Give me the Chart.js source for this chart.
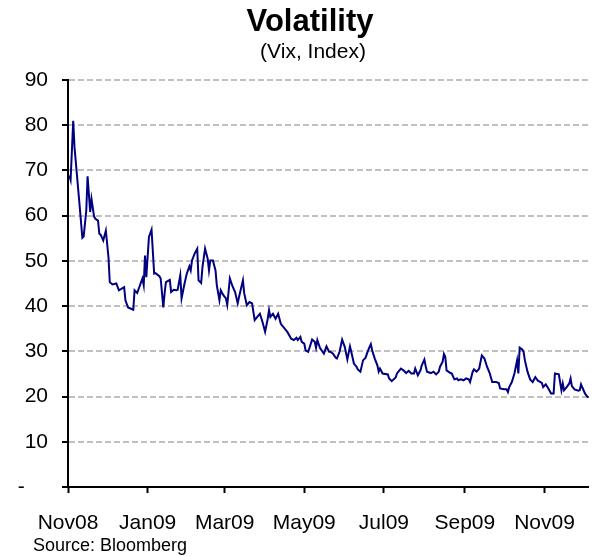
<!DOCTYPE html>
<html>
<head>
<meta charset="utf-8">
<script src="https://cdn.jsdelivr.net/npm/chart.js@4/dist/chart.umd.min.js"></script>
<style>
  body { margin: 0; background: #fff; }
  #wrap { width: 593px; height: 556px; }
</style>
</head>
<body>
<div id="wrap"><canvas id="vixChart" width="593" height="556"></canvas></div>
<script>
// VIX: day offsets from 1 Nov 2008 and index level
const dayOffsets = [
  1, 2, 4, 5, 7, 9, 11, 12, 14, 15, 17, 18, 20, 21, 23, 24, 25, 27, 29, 31,
  32, 34, 37, 39, 43, 44, 46, 50, 51, 53, 57, 58, 59, 60, 62, 64, 66, 67, 70, 71,
  73, 74, 75, 78, 79, 81, 83, 84, 86, 87, 89, 91, 93, 94, 95, 97, 99, 100, 102, 103,
  105, 107, 108, 109, 111, 113, 114, 116, 117, 119, 121, 122, 124, 126, 128, 130, 131, 134, 135, 137,
  139, 141, 143, 145, 147, 149, 151, 153, 154, 155, 157, 159, 161, 163, 166, 168, 171, 173, 175, 176,
  178, 179, 181, 182, 184, 185, 187, 189, 190, 191, 193, 195, 196, 198, 200, 201, 203, 205, 206, 208,
  210, 212, 214, 216, 217, 219, 221, 222, 224, 226, 228, 229, 231, 232, 233, 235, 237, 238, 239, 241,
  245, 246, 248, 251, 252, 255, 257, 259, 261, 263, 265, 266, 268, 270, 271, 273, 274, 275, 278, 280,
  282, 284, 285, 287, 288, 289, 290, 293, 294, 296, 298, 299, 301, 303, 305, 307, 308, 310, 311, 313,
  315, 317, 319, 321, 323, 325, 328, 330, 331, 334, 336, 337, 338, 340, 342, 344, 345, 346, 348, 349,
  350, 352, 354, 356, 358, 360, 363, 364, 366, 368, 370, 372, 373, 376, 378, 379, 380, 382, 384, 385,
  386, 388, 391, 392, 393, 394, 396, 398, 399
];
const vixValues = [
  68.9, 67.9, 81.0, 75.1, 68.5, 61.9, 55.1, 55.4, 61.1, 68.7, 60.8, 63.7, 59.8, 59.3, 58.9, 56.0, 55.8, 54.5, 56.7, 50.8,
  45.3, 44.8, 45.0, 43.5, 44.2, 41.3, 39.7, 39.2, 43.5, 42.9, 46.1, 44.6, 51.2, 46.4, 55.3, 56.9, 47.2, 47.3, 46.6, 46.1,
  39.7, 42.8, 45.3, 45.8, 43.1, 43.6, 43.5, 43.6, 46.8, 41.7, 44.6, 47.2, 48.8, 47.9, 50.1, 51.6, 52.7, 45.7, 45.1, 48.6,
  52.7, 50.5, 47.9, 50.1, 50.1, 47.9, 44.6, 41.3, 43.5, 42.4, 41.7, 40.3, 46.1, 44.4, 43.1, 40.6, 42.0, 45.7, 42.8, 40.2,
  40.9, 40.6, 36.9, 37.6, 38.3, 36.5, 34.3, 37.2, 39.1, 37.6, 38.3, 37.2, 38.3, 36.1, 35.0, 34.3, 32.8, 32.5, 33.0, 32.5,
  33.2, 32.1, 31.7, 30.2, 29.9, 30.8, 32.6, 32.1, 30.8, 32.5, 30.8, 29.9, 29.5, 31.1, 29.9, 29.9, 29.5, 28.6, 28.4, 29.9,
  32.6, 31.0, 28.2, 31.1, 29.9, 27.3, 26.6, 26.0, 25.5, 28.0, 28.6, 29.5, 31.0, 31.6, 30.2, 28.4, 26.9, 25.5, 26.2, 25.1,
  24.9, 24.0, 23.4, 24.2, 25.1, 26.2, 25.8, 25.2, 25.7, 25.1, 25.1, 26.2, 24.7, 25.8, 26.9, 28.2, 26.7, 25.5, 25.2, 25.5,
  24.9, 25.5, 26.6, 27.7, 29.4, 28.8, 25.8, 25.2, 25.1, 23.8, 24.0, 23.6, 23.8, 23.6, 24.0, 23.8, 23.2, 25.5, 26.0, 25.5,
  26.2, 29.1, 28.4, 26.6, 25.2, 23.2, 23.2, 23.0, 21.8, 21.6, 21.6, 21.0, 22.1, 23.2, 25.1, 28.0, 25.1, 30.8, 30.4, 29.9,
  28.0, 25.5, 23.8, 23.2, 24.3, 23.5, 23.0, 22.1, 22.7, 21.8, 20.7, 20.7, 25.1, 24.9, 21.4, 22.9, 21.4, 22.1, 22.9, 24.0,
  22.3, 21.6, 21.3, 21.4, 22.7, 22.0, 20.7, 19.9, 19.9
];

// x axis ticks (month starts) and their labels
const tickDays = [0, 61, 120, 181, 242, 304, 365];
const tickLabels = ['Nov08', 'Jan09', 'Mar09', 'May09', 'Jul09', 'Sep09', 'Nov09'];

const titleText = 'Volatility';
const subtitleText = '(Vix, Index)';
const sourceText = 'Source: Bloomberg';

const FONT = '"Liberation Sans", Arial, sans-serif';

// title, subtitle and source note drawn straight on the canvas
const textPlugin = {
  id: 'chartTexts',
  afterDraw(chart) {
    const ctx = chart.ctx;
    ctx.save();
    ctx.fillStyle = '#000';
    ctx.textAlign = 'center';
    ctx.textBaseline = 'alphabetic';
    ctx.font = 'bold 31px ' + FONT;
    ctx.fillText(titleText, 310, 31);
    ctx.font = '21px ' + FONT;
    ctx.fillText(subtitleText, 313, 58);
    ctx.textAlign = 'left';
    ctx.font = '18px ' + FONT;
    ctx.fillText(sourceText, 33, 551);
    ctx.restore();
  }
};

new Chart(document.getElementById('vixChart').getContext('2d'), {
  type: 'line',
  data: {
    datasets: [{
      label: 'VIX',
      data: dayOffsets.map((d, i) => ({ x: d, y: vixValues[i] })),
      borderColor: '#000080',
      borderWidth: 2,
      pointRadius: 0,
      tension: 0,
      fill: false
    }]
  },
  options: {
    responsive: false,
    animation: false,
    events: [],
    layout: { padding: { top: 80, right: 2, left: 0, bottom: 0 } },
    plugins: {
      legend: { display: false },
      title: { display: false },
      tooltip: { enabled: false }
    },
    scales: {
      x: {
        type: 'linear',
        min: 0,
        max: 399,
        afterBuildTicks: scale => { scale.ticks = tickDays.map(v => ({ value: v })); },
        afterFit: scale => { scale.height = 69; },
        grid: {
          drawOnChartArea: false,
          color: '#000',
          tickColor: '#000',
          tickLength: 6,
          tickWidth: 2
        },
        border: { color: '#000', width: 2 },
        ticks: {
          autoSkip: false,
          maxRotation: 0,
          padding: 18,
          color: '#000',
          font: { family: FONT, size: 21 },
          callback: (v, i) => tickLabels[i]
        }
      },
      y: {
        min: 0,
        max: 90,
        afterFit: scale => { scale.width = 68; },
        grid: {
          color: c => (c.tick && c.tick.value === 0) ? 'rgba(0,0,0,0)' : '#c0c0c0',
          lineWidth: 2,
          tickColor: '#000',
          tickLength: 6,
          tickWidth: 2
        },
        border: { color: '#000', width: 2, dash: [6, 3] },
        ticks: {
          stepSize: 10,
          padding: 14,
          color: '#000',
          font: { family: FONT, size: 21 },
          callback: v => v === 0 ? '-    ' : v
        }
      }
    }
  },
  plugins: [textPlugin]
});
</script>
</body>
</html>
